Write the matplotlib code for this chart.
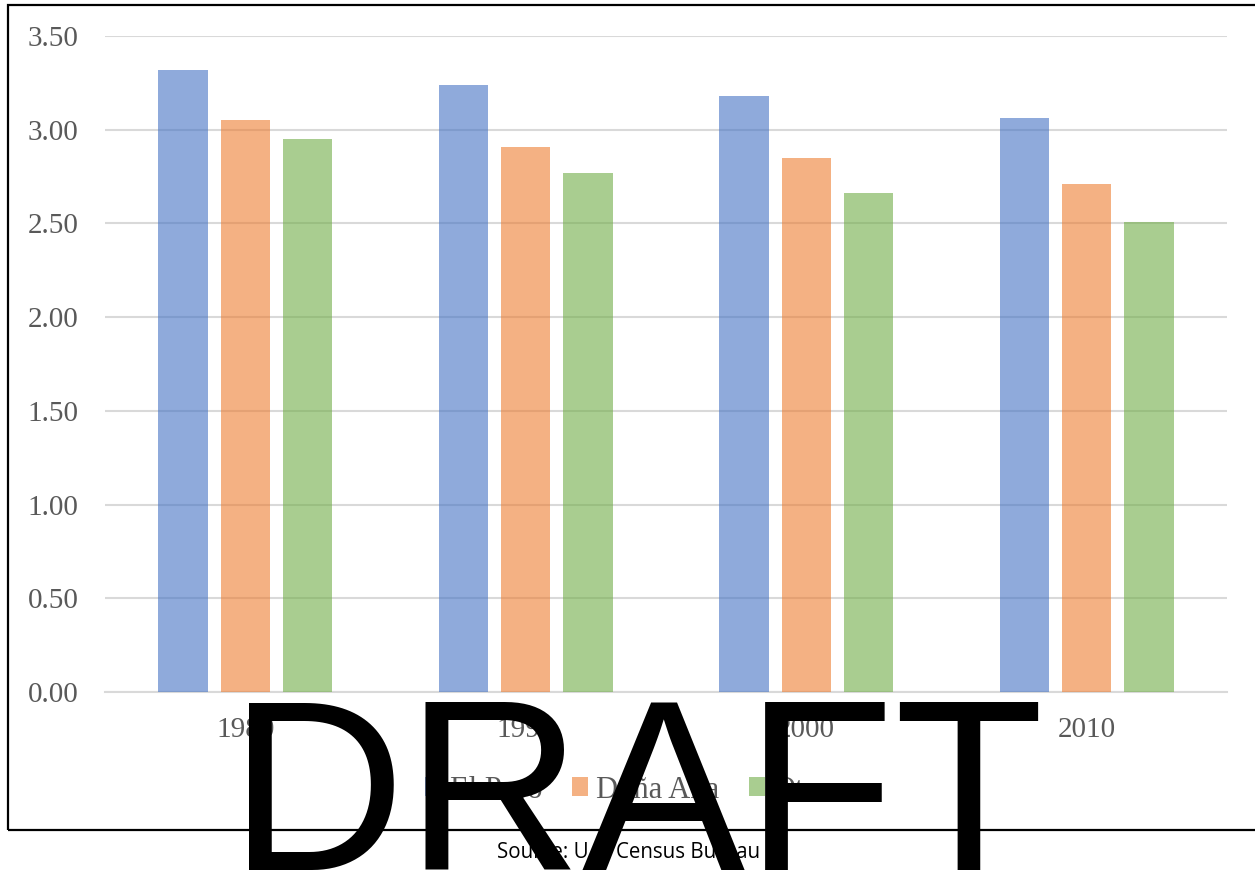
import matplotlib
matplotlib.use("Agg")
import matplotlib.pyplot as plt
import matplotlib.patches as mpatches
import numpy as np

# Average household size by county
years = ["1980", "1990", "2000", "2010"]
series_names = ["El Paso", "Doña Ana", "Otero"]
el_paso = [3.32, 3.24, 3.18, 3.06]
dona_ana = [3.05, 2.91, 2.85, 2.71]
otero = [2.95, 2.77, 2.66, 2.51]
y_ticks = [0.0, 0.5, 1.0, 1.5, 2.0, 2.5, 3.0, 3.5]

colors = ["#4472C4", "#ED7D31", "#70AD47"]
W, H = 1255, 886
fig = plt.figure(figsize=(W / 100, H / 100), dpi=100)
fig.patch.set_facecolor("white")

ax = fig.add_axes([105 / W, (H - 692) / H, (1227 - 105) / W, (692 - 36) / H])
x = np.arange(len(years))
bw = 0.175
step = 0.222
for i, (vals, name) in enumerate(zip([el_paso, dona_ana, otero], series_names)):
    ax.bar(x + (i - 1) * step, vals, width=bw, color=colors[i], alpha=0.6,
           label=name, zorder=3, linewidth=0)

ax.set_xlim(-0.5, 3.5)
ax.set_ylim(0, 3.5)
ax.set_yticks(y_ticks)
ax.set_yticklabels([f"{v:.2f}" for v in y_ticks])
ax.set_xticks(x)
ax.set_xticklabels(years)
ax.grid(axis="y", color="#D9D9D9", linewidth=1.5, zorder=1)
for s in ["left", "right", "top"]:
    ax.spines[s].set_visible(False)
ax.spines["bottom"].set_color("#D9D9D9")
ax.spines["bottom"].set_linewidth(1.5)
ax.spines["bottom"].set_zorder(1)
ax.tick_params(length=0, labelsize=21, labelcolor="#595959")
ax.tick_params(axis="y", pad=19)
ax.tick_params(axis="x", pad=18)
for lbl in ax.get_xticklabels() + ax.get_yticklabels():
    lbl.set_fontfamily("Liberation Serif")

leg = fig.legend(loc="center", bbox_to_anchor=(634 / W, 1 - 790 / H), ncol=3,
                 frameon=False, prop={"family": "Liberation Serif", "size": 22},
                 handlelength=0.55, handleheight=0.55, handletextpad=0.26,
                 columnspacing=0.95, labelcolor="#595959")
leg.set_zorder(4)

# chart frame
frame = mpatches.Rectangle((8 / W, 1 - 830 / H), 1.02, (830 - 5) / H,
                           transform=fig.transFigure, fill=False,
                           edgecolor="black", linewidth=1.6, clip_on=False)
fig.add_artist(frame)

fig.text(628.5 / W, 1 - 853 / H, "Source: U.S. Census Bureau", ha="center",
         va="center", fontsize=14.8, family="Open Sans", color="black")

fig.text(636 / W, 1 - 808 / H, "DRAFT", ha="center", va="center",
         fontsize=176, family="Liberation Sans", color="black", zorder=10)

fig.savefig("out.png", dpi=100)
